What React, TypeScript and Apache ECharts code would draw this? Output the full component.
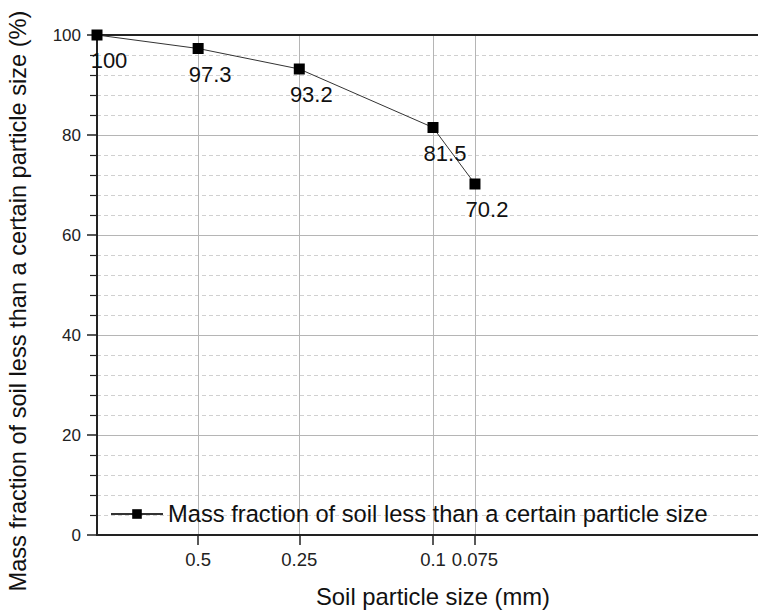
import React, { useEffect, useRef } from "react";
import * as echarts from "echarts";

const particleSizes = [1, 0.5, 0.25, 0.1, 0.075];
const massFractions = [100, 97.3, 93.2, 81.5, 70.2];
const xTickValues = [0.5, 0.25, 0.1, 0.075];
const seriesName = "Mass fraction of soil less than a certain particle size";
const xTitle = "Soil particle size (mm)";
const yTitle = "Mass fraction of soil less than a certain particle size (%)";

const FONT = "'Liberation Sans', Arial, Helvetica, sans-serif";

export default function App() {
  const ref = useRef<HTMLDivElement>(null);
  useEffect(() => {
    if (!ref.current) return;
    const chart = echarts.init(ref.current, undefined, { renderer: "svg" });
    const data = particleSizes.map((x, i) => [x, massFractions[i]]);
    chart.setOption({
      animation: false,
      backgroundColor: "#ffffff",
      textStyle: { fontFamily: FONT },
      grid: {
        left: 97,
        top: 35,
        right: -11,
        bottom: 75,
        containLabel: false,
        outerBoundsMode: "none",
      },
      legend: {
        left: 105,
        top: 497,
        itemWidth: 52,
        itemHeight: 12,
        itemGap: 8,
        textStyle: { fontSize: 23.7, color: "#111", fontFamily: FONT },
        data: [seriesName],
      },
      xAxis: [
        {
          type: "log",
          logBase: 10,
          min: 0.01,
          max: 1,
          inverse: true,
          name: xTitle,
          nameLocation: "middle",
          nameGap: 49,
          nameTextStyle: { fontSize: 23.8, color: "#111", fontFamily: FONT },
          axisLine: { show: true, onZero: false, lineStyle: { color: "#222", width: 2 } },
          axisTick: { show: true, inside: false, length: 10, customValues: xTickValues, lineStyle: { color: "#222", width: 1.5 } },
          axisLabel: {
            show: true,
            customValues: xTickValues,
            fontSize: 18.5,
            color: "#222",
            margin: 15,
            fontFamily: FONT,
            formatter: (v: number) => {
              const m = xTickValues.find((t) => Math.abs(t - v) < 1e-6);
              return m !== undefined ? String(m) : "";
            },
          },
          splitLine: { show: true, lineStyle: { color: "#b5b5b5", width: 1 } },
          minorTick: { show: false },
          minorSplitLine: { show: false },
        },
        {
          type: "log",
          logBase: 10,
          min: 0.01,
          max: 1,
          inverse: true,
          position: "top",
          axisLine: { show: true, onZero: false, lineStyle: { color: "#222", width: 2 } },
          axisTick: { show: false },
          axisLabel: { show: false },
          splitLine: { show: false },
        },
      ],
      yAxis: {
        type: "value",
        min: 0,
        max: 100,
        interval: 20,
        name: yTitle,
        nameLocation: "middle",
        nameGap: 67,
        nameTextStyle: { fontSize: 23.6, color: "#111", fontFamily: FONT, padding: [0, 32, 0, 0] },
        axisLine: { show: true, lineStyle: { color: "#222", width: 2 } },
        axisTick: { show: true, inside: false, length: 10, lineStyle: { color: "#222", width: 1.5 } },
        minorTick: { show: true, splitNumber: 5, length: 7, lineStyle: { color: "#222", width: 1.2 } },
        axisLabel: { fontSize: 17, color: "#222", margin: 16, fontFamily: FONT },
        splitLine: { show: true, lineStyle: { color: "#b5b5b5", width: 1 } },
        minorSplitLine: { show: true, lineStyle: { color: "#d0d0d0", width: 1, type: [4, 3] } },
      },
      series: [
        {
          name: seriesName,
          type: "line",
          xAxisIndex: 0,
          data,
          symbol: "rect",
          symbolSize: 11,
          clip: false,
          itemStyle: { color: "#000" },
          lineStyle: { color: "#333", width: 1 },
          label: {
            show: true,
            position: "bottom",
            distance: 9,
            offset: [12, 0],
            fontSize: 22,
            color: "#111",
            fontFamily: FONT,
            formatter: (p: any) => String(p.value[1]),
          },
        },
      ],
    });
    return () => chart.dispose();
  }, []);
  return (
    <div
      ref={ref}
      style={{ position: "fixed", left: 0, top: 0, width: 758, height: 610, background: "#fff" }}
    />
  );
}
